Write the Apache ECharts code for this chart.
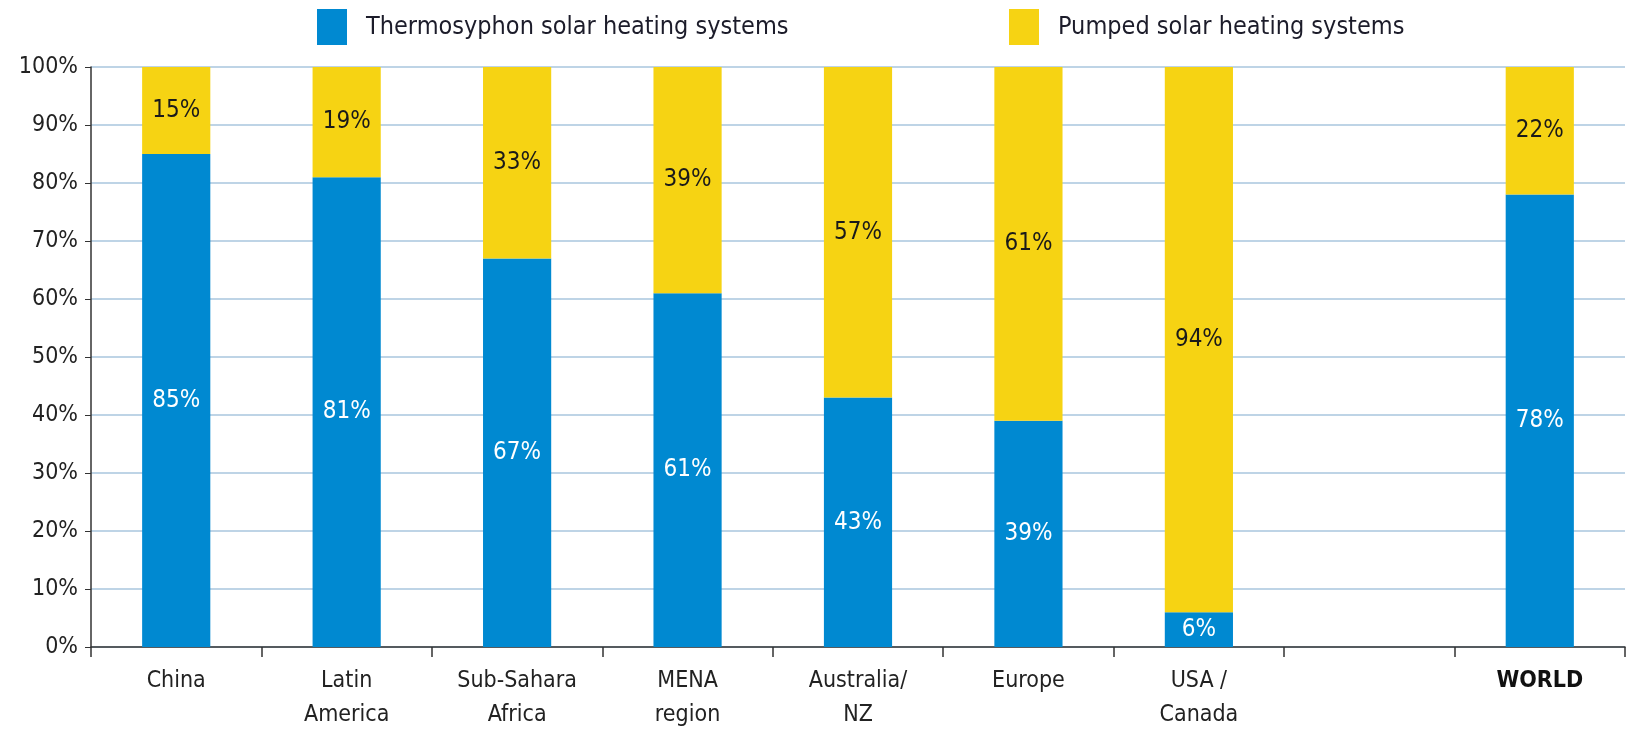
<!DOCTYPE html>
<html>
<head>
    <meta charset="utf-8">
    <script src="https://cdn.jsdelivr.net/npm/echarts@6/dist/echarts.min.js"></script>
    <style>
        html, body { margin: 0; padding: 0; background: #fff; }
        #main { width: 1628px; height: 732px; }
    </style>
</head>
<body>
<div id="main"></div>
<script type="text/javascript">
    // regions on the x axis (one empty slot before WORLD)
    var regions = ['China', 'Latin\nAmerica', 'Sub-Sahara\nAfrica', 'MENA\nregion', 'Australia/\nNZ', 'Europe', 'USA /\nCanada', '', 'WORLD'];
    // shares in percent
    var thermosyphon = [85, 81, 67, 61, 43, 39, 6, '-', 78];
    var pumped = [15, 19, 33, 39, 57, 61, 94, '-', 22];
    var yTicks = [0, 10, 20, 30, 40, 50, 60, 70, 80, 90, 100];

    var fontName = '"Liberation Sans Narrow", "DejaVu Sans Condensed", "Open Sans", sans-serif';
    var blue = '#0089d1';
    var yellow = '#f6d313';

    var myChart = echarts.init(document.getElementById('main'));
    var option = {
        backgroundColor: '#ffffff',
        textStyle: { fontFamily: fontName },
        legend: [{
            data: ['Thermosyphon solar heating systems'],
            icon: 'rect',
            left: 312, top: 4,
            itemWidth: 30, itemHeight: 36,
            textStyle: { fontSize: 25, color: '#1c1c2a', fontFamily: fontName, padding: [0, 0, 0, 14] }
        }, {
            data: ['Pumped solar heating systems'],
            icon: 'rect',
            left: 1004, top: 4,
            itemWidth: 30, itemHeight: 36,
            textStyle: { fontSize: 25, color: '#1c1c2a', fontFamily: fontName, padding: [0, 0, 0, 14] }
        }],
        grid: { left: 91, right: 3, top: 67, bottom: 83 },
        xAxis: {
            type: 'category',
            data: regions,
            axisLine: { lineStyle: { color: '#333', width: 1.5 } },
            axisTick: { show: true, length: 10, lineStyle: { color: '#333', width: 1.5 } },
            axisLabel: {
                margin: 17,
                fontSize: 23,
                lineHeight: 34,
                color: '#222',
                fontFamily: fontName,
                formatter: function (v) {
                    return v === 'WORLD' ? '{b|' + v + '}' : v;
                },
                rich: { b: { fontWeight: 'bold', fontSize: 23, color: '#111', fontFamily: fontName } }
            }
        },
        yAxis: {
            type: 'value',
            min: 0, max: 100, interval: 10,
            axisLine: { show: true, lineStyle: { color: '#333', width: 1.5 } },
            axisTick: { show: true, length: 6, lineStyle: { color: '#333' } },
            axisLabel: {
                margin: 13,
                fontSize: 23,
                color: '#222',
                fontFamily: fontName,
                formatter: function (v) { return yTicks.indexOf(v) >= 0 ? v + '%' : ''; }
            },
            splitLine: { lineStyle: { color: '#a8c6de', width: 1.5 } }
        },
        series: [{
            name: 'Thermosyphon solar heating systems',
            type: 'bar',
            stack: 'total',
            barWidth: '40%',
            data: thermosyphon,
            itemStyle: { color: blue },
            label: {
                show: true, position: 'inside',
                color: '#ffffff', fontSize: 24, fontFamily: fontName,
                formatter: '{c}%'
            }
        }, {
            name: 'Pumped solar heating systems',
            type: 'bar',
            stack: 'total',
            barWidth: '40%',
            data: pumped,
            itemStyle: { color: yellow },
            label: {
                show: true, position: 'inside',
                color: '#1a1a1a', fontSize: 24, fontFamily: fontName,
                formatter: '{c}%'
            }
        }],
        animation: false
    };
    myChart.setOption(option);
</script>
</body>
</html>
